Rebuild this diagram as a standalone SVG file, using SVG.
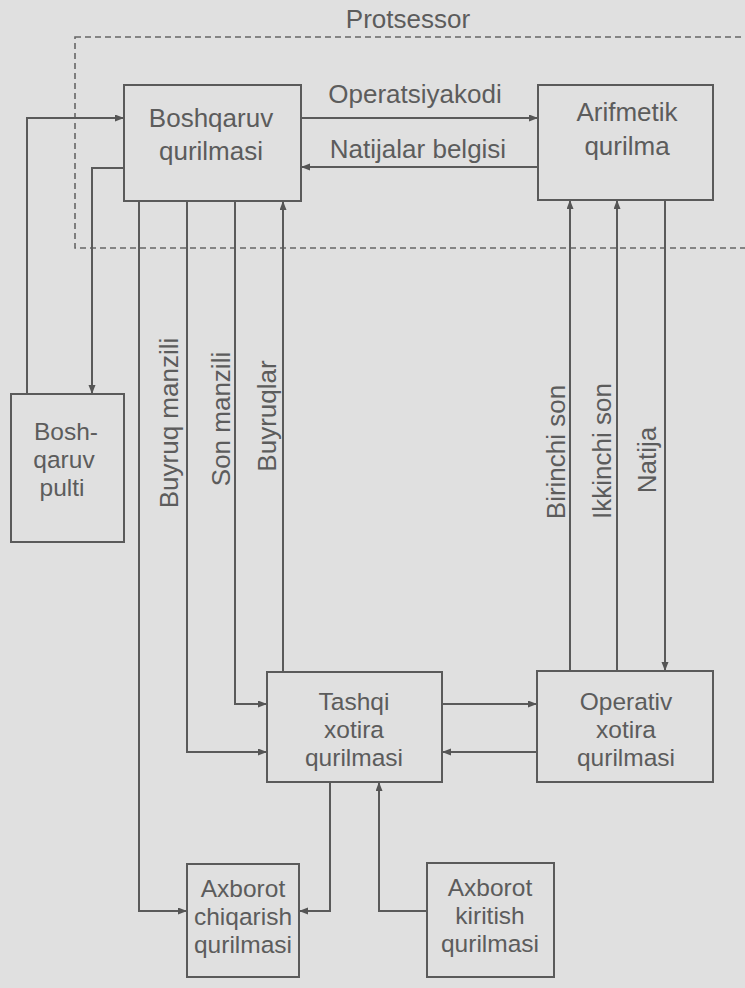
<svg xmlns="http://www.w3.org/2000/svg" width="745" height="988" viewBox="0 0 745 988">
<defs>
<marker id="arr" markerUnits="userSpaceOnUse" markerWidth="10" markerHeight="8" refX="9" refY="3.5" orient="auto">
<path d="M0,0 L9,3.5 L0,7 z" fill="#555"/>
</marker>
<style>
.box{fill:none;stroke:#5a5a5a;stroke-width:2}
.t{font-family:"Liberation Sans",Arial,sans-serif;font-size:26px;fill:#5c5c5c;text-anchor:middle}
.s{font-size:24.5px}
.c{fill:none;stroke:#5a5a5a;stroke-width:2;marker-end:url(#arr)}
.d{fill:none;stroke:#666;stroke-width:1.6;stroke-dasharray:6 4}
</style>
</defs>
<rect x="0" y="0" width="745" height="988" fill="#e0e0e0"/>

<g id="protsessor">
<rect class="d" x="75" y="37" width="720" height="211"/>
<text class="t" x="408" y="28">Protsessor</text>
</g>

<g id="connectors">
<path class="c" d="M27,394 V118 H124"/>
<path class="c" d="M124,168 H92 V394"/>
<path class="c" d="M301,118 H538"/>
<path class="c" d="M538,167 H301"/>
<path class="c" d="M139,201 V911 H187"/>
<path class="c" d="M187,201 V752 H267"/>
<path class="c" d="M235,201 V704 H267"/>
<path class="c" d="M283,672 V201"/>
<path class="c" d="M570,671 V200"/>
<path class="c" d="M617,671 V200"/>
<path class="c" d="M665,200 V671"/>
<path class="c" d="M442,704 H537"/>
<path class="c" d="M537,752 H442"/>
<path class="c" d="M330,782 V911 H299"/>
<path class="c" d="M427,911 H379 V782"/>
<text class="t" x="415" y="103">Operatsiyakodi</text>
<text class="t" x="418" y="158">Natijalar belgisi</text>
<text class="t" transform="translate(178,423) rotate(-90)">Buyruq manzili</text>
<text class="t" transform="translate(230,419) rotate(-90)">Son manzili</text>
<text class="t" transform="translate(276,416) rotate(-90)">Buyruqlar</text>
<text class="t" transform="translate(565,452) rotate(-90)">Birinchi son</text>
<text class="t" transform="translate(611,451) rotate(-90)">Ikkinchi son</text>
<text class="t" transform="translate(656,460) rotate(-90)">Natija</text>
</g>

<g id="boshqaruv">
<rect class="box" x="124" y="85" width="177" height="116"/>
<text class="t" x="211" y="127">Boshqaruv</text>
<text class="t" x="211" y="160">qurilmasi</text>
</g>

<g id="arifmetik">
<rect class="box" x="538" y="85" width="175" height="115"/>
<text class="t" x="627" y="121">Arifmetik</text>
<text class="t" x="627" y="155">qurilma</text>
</g>

<g id="pulti">
<rect class="box" x="11" y="394" width="113" height="148"/>
<text class="t s" x="66" y="440">Bosh-</text>
<text class="t s" x="64" y="468">qaruv</text>
<text class="t s" x="62" y="496">pulti</text>
</g>

<g id="tashqi">
<rect class="box" x="267" y="672" width="175" height="110"/>
<text class="t s" x="354" y="710">Tashqi</text>
<text class="t s" x="354" y="738">xotira</text>
<text class="t s" x="354" y="766">qurilmasi</text>
</g>

<g id="operativ">
<rect class="box" x="537" y="671" width="176" height="111"/>
<text class="t s" x="626" y="710">Operativ</text>
<text class="t s" x="626" y="738">xotira</text>
<text class="t s" x="626" y="766">qurilmasi</text>
</g>

<g id="chiqarish">
<rect class="box" x="187" y="864" width="112" height="113"/>
<text class="t s" x="243" y="897">Axborot</text>
<text class="t s" x="243" y="925">chiqarish</text>
<text class="t s" x="243" y="953">qurilmasi</text>
</g>

<g id="kiritish">
<rect class="box" x="427" y="863" width="127" height="114"/>
<text class="t s" x="490" y="896">Axborot</text>
<text class="t s" x="490" y="924">kiritish</text>
<text class="t s" x="490" y="952">qurilmasi</text>
</g>
</svg>
